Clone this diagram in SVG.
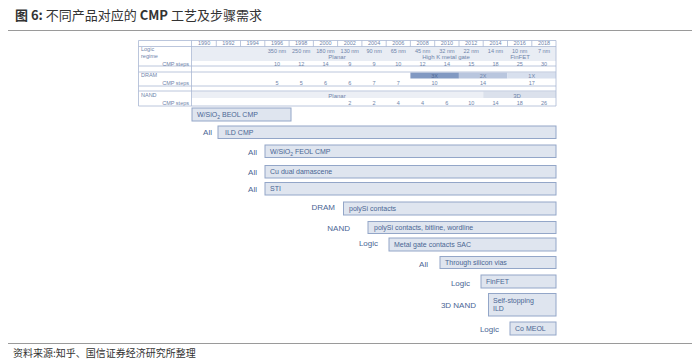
<svg xmlns="http://www.w3.org/2000/svg" width="700" height="362" viewBox="0 0 700 362">
<style>
.t{font-family:"Liberation Sans",Arial,sans-serif;}
.cjk{font-family:"Noto Sans CJK SC","Liberation Sans",sans-serif;}
.tb{font-family:"Liberation Sans",Arial,sans-serif;font-size:5.5px;fill:#6f84aa;}
.tbm{text-anchor:middle;}
.tl{stroke:#a9b8d3;stroke-width:0.8;fill:none;}
.box{fill:#dfe5ef;stroke:#93a6c8;stroke-width:1;}
.bt{font-family:"Liberation Sans",Arial,sans-serif;font-size:7px;fill:#4a6594;}
.lb{font-family:"Liberation Sans",Arial,sans-serif;font-size:8px;fill:#4a6594;text-anchor:end;}
</style>
<rect width="700" height="362" fill="#ffffff"/>
<!-- title -->
<text x="15" y="20" class="cjk" font-size="13" font-weight="bold" fill="#333">图 6: <tspan font-weight="normal">不同产品对应的 </tspan>CMP<tspan font-weight="normal"> 工艺及步骤需求</tspan></text>
<line x1="8" y1="30.5" x2="692" y2="30.5" stroke="#9a9a9a" stroke-width="1"/>
<!-- header table -->
<g id="table">
  <rect x="192" y="47" width="364" height="14" fill="#e9edf4"/>
  <rect x="410.4" y="72.5" width="48.5" height="6" fill="#8199c2"/>
  <rect x="458.9" y="72.5" width="48.5" height="6" fill="#b9c6de"/>
  <rect x="507.4" y="72.5" width="48.6" height="6" fill="#d8e0ee"/>
  <rect x="192" y="91.5" width="291.2" height="6.5" fill="#eceff5"/>
  <rect x="483.2" y="91.5" width="72.8" height="6.5" fill="#dbe1ec"/>
  <path class="tl" d="M138.5 40.5H556M138.5 46.5H556M138.5 66H556M138.5 72H556M138.5 86H556M138.5 91H556M138.5 106H556M138.5 40.5V106M191.5 40.5V106M556 40.5V106"/>
  <path class="tl" d="M216.3 40.5V46.5M240.5 40.5V46.5M264.8 40.5V46.5M289.1 40.5V46.5M313.4 40.5V46.5M337.6 40.5V46.5M361.9 40.5V46.5M386.2 40.5V46.5M410.4 40.5V46.5M434.7 40.5V46.5M459 40.5V46.5M483.2 40.5V46.5M507.5 40.5V46.5M531.8 40.5V46.5"/>
  <g class="tb tbm">
    <text x="204.1" y="45.4">1990</text><text x="228.4" y="45.4">1992</text><text x="252.7" y="45.4">1994</text><text x="277" y="45.4">1996</text><text x="301.2" y="45.4">1998</text><text x="325.5" y="45.4">2000</text><text x="349.8" y="45.4">2002</text><text x="374.1" y="45.4">2004</text><text x="398.3" y="45.4">2006</text><text x="422.6" y="45.4">2008</text><text x="446.9" y="45.4">2010</text><text x="471.2" y="45.4">2012</text><text x="495.5" y="45.4">2014</text><text x="519.7" y="45.4">2016</text><text x="544" y="45.4">2018</text>
    <text x="277" y="52.8">350 nm</text><text x="301.2" y="52.8">250 nm</text><text x="325.5" y="52.8">180 nm</text><text x="349.8" y="52.8">130 nm</text><text x="374.1" y="52.8">90 nm</text><text x="398.3" y="52.8">65 nm</text><text x="422.6" y="52.8">45 nm</text><text x="446.9" y="52.8">32 nm</text><text x="471.2" y="52.8">22 nm</text><text x="495.5" y="52.8">14 nm</text><text x="519.7" y="52.8">10 nm</text><text x="544" y="52.8">7 nm</text>
    <text x="337" y="59.4" font-size="6">Planar</text><text x="446" y="59.4" font-size="6">High K metal gate</text><text x="520" y="59.4" font-size="6">FinFET</text>
    <text x="277" y="66">10</text><text x="301.2" y="66">12</text><text x="325.5" y="66">14</text><text x="349.8" y="66">9</text><text x="374.1" y="66">9</text><text x="398.3" y="66">10</text><text x="422.6" y="66">12</text><text x="446.9" y="66">14</text><text x="471.2" y="66">15</text><text x="495.5" y="66">18</text><text x="519.7" y="66">25</text><text x="544" y="66">30</text>
    <text x="434.6" y="77.5" fill="#4d6796">3X</text><text x="483.1" y="77.5">2X</text><text x="531.7" y="77.5">1X</text>
    <text x="277" y="84.6">5</text><text x="301.2" y="84.6">5</text><text x="325.5" y="84.6">6</text><text x="349.8" y="84.6">6</text><text x="374.1" y="84.6">7</text><text x="398.3" y="84.6">7</text><text x="434.6" y="84.6">10</text><text x="483.1" y="84.6">14</text><text x="531.7" y="84.6">17</text>
    <text x="337" y="97.6" font-size="6">Planar</text><text x="517" y="97.6" font-size="6">3D</text>
    <text x="349.8" y="104.8">2</text><text x="374.1" y="104.8">2</text><text x="398.3" y="104.8">4</text><text x="422.6" y="104.8">4</text><text x="446.9" y="104.8">6</text><text x="471.2" y="104.8">10</text><text x="495.5" y="104.8">14</text><text x="519.7" y="104.8">18</text><text x="544" y="104.8">26</text>
  </g>
  <g class="tb">
    <text x="141" y="51">Logic</text><text x="141" y="58">regime</text>
    <text x="189" y="66" text-anchor="end">CMP steps</text>
    <text x="141" y="77">DRAM</text>
    <text x="189" y="84.6" text-anchor="end">CMP steps</text>
    <text x="141" y="97">NAND</text>
    <text x="189" y="104.8" text-anchor="end">CMP steps</text>
  </g>
</g>
<!-- nodes -->
<g id="n1"><rect class="box" x="192" y="108" width="99" height="13"/><text class="bt" x="197" y="117">W/SiO<tspan font-size="5" dy="1.8">2</tspan><tspan dy="-1.8"> BEOL CMP</tspan></text></g>
<g id="n2"><text class="lb" x="212" y="135">All</text><rect class="box" x="218" y="126" width="338" height="12.5"/><text class="bt" x="225" y="134.8">ILD CMP</text></g>
<g id="n3"><text class="lb" x="257" y="154.5">All</text><rect class="box" x="265" y="145" width="291" height="12.5"/><text class="bt" x="270" y="153.8">W/SiO<tspan font-size="5" dy="1.8">2</tspan><tspan dy="-1.8"> FEOL CMP</tspan></text></g>
<g id="n4"><text class="lb" x="257" y="174.5">All</text><rect class="box" x="265" y="165.5" width="291" height="12.5"/><text class="bt" x="270" y="174.2">Cu dual damascene</text></g>
<g id="n5"><text class="lb" x="257" y="191.5">All</text><rect class="box" x="265" y="182.5" width="291" height="12.5"/><text class="bt" x="270" y="191.2">STI</text></g>
<g id="n6"><text class="lb" x="335" y="210">DRAM</text><rect class="box" x="343.5" y="202" width="212.5" height="13"/><text class="bt" x="349" y="211">polySi contacts</text></g>
<g id="n7"><text class="lb" x="350" y="230.5">NAND</text><rect class="box" x="368" y="221.5" width="188" height="12"/><text class="bt" x="374" y="230">polySi contacts, bitline, wordline</text></g>
<g id="n8"><text class="lb" x="378" y="245.5">Logic</text><rect class="box" x="389" y="238" width="167" height="13"/><text class="bt" x="394" y="247">Metal gate contacts SAC</text></g>
<g id="n9"><text class="lb" x="428" y="266.5">All</text><rect class="box" x="440" y="256.5" width="116" height="12"/><text class="bt" x="445" y="265">Through silicon vias</text></g>
<g id="n10"><text class="lb" x="470" y="285.5">Logic</text><rect class="box" x="481" y="275" width="75" height="13"/><text class="bt" x="486" y="284">FinFET</text></g>
<g id="n11"><text class="lb" x="476" y="307.5">3D NAND</text><rect class="box" x="488.5" y="293.5" width="67.5" height="22.5"/><text class="bt" x="493" y="302.5">Self-stopping</text><text class="bt" x="493" y="310.5">ILD</text></g>
<g id="n12"><text class="lb" x="499" y="331.5">Logic</text><rect class="box" x="510" y="322" width="46" height="13"/><text class="bt" x="515" y="331">Co MEOL</text></g>
<g id="connectors"></g>
<!-- footer -->
<line x1="8" y1="343.5" x2="692" y2="343.5" stroke="#9a9a9a" stroke-width="1"/>
<text x="13" y="357" class="cjk" font-size="10" fill="#333">资料来源:知乎、国信证券经济研究所整理</text>
</svg>
